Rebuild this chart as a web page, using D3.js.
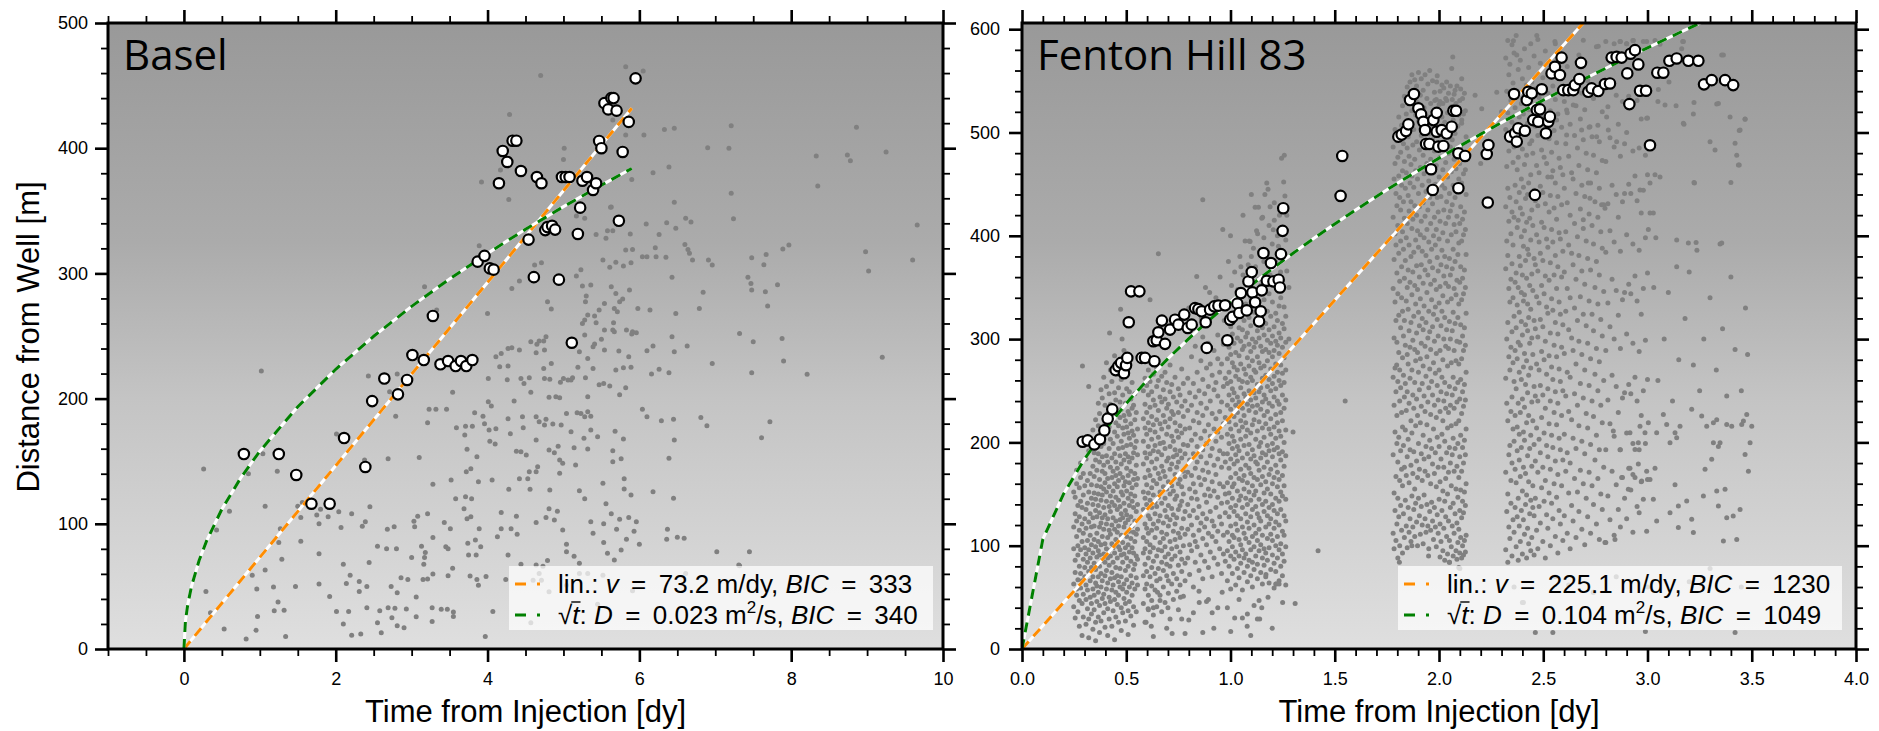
<!DOCTYPE html>
<html>
<head>
<meta charset="utf-8">
<script src="https://cdn.jsdelivr.net/npm/d3@7"></script>
<style>
body { margin: 0; background: #fff; }
text { font-family: "Liberation Sans", Arial, sans-serif; }
</style>
</head>
<body>
<div id="chart"></div>
<script>
// tick values
var baselXTicks = [0, 2, 4, 6, 8, 10];
var baselYTicks = [0, 100, 200, 300, 400, 500];
var fhXTicks = [0, 0.5, 1, 1.5, 2, 2.5, 3, 3.5, 4];
var fhYTicks = [0, 100, 200, 300, 400, 500, 600];

// fit parameters shown in the legends
var baselFit = {v: "73.2", bicLin: "333", D: "0.023", bicSqrt: "340"};
var fhFit = {v: "225.1", bicLin: "1230", D: "0.104", bicSqrt: "1049"};

// fit curves [t (dy), r (m)]
var baselLin = [[0, 0], [5.9, 431.9]];
var baselSqrt = [[0,0],[0.02,22.3],[0.05,35.3],[0.1,50],[0.2,70.7],[0.3,86.5],[0.5,111.7],[0.75,136.8],[1,158],[1.5,193.5],[2,223.4],[2.5,249.8],[3,273.7],[3.5,295.6],[4,316],[4.5,335.2],[5,353.3],[5.5,370.5],[5.9,383.8]];
var fhLin = [[0, 0], [2.7, 607.8]];
var fhSqrt = [[0,0],[0.1,106.3],[0.2,150.3],[0.3,184],[0.4,212.5],[0.5,237.6],[0.6,260.3],[0.7,281.1],[0.8,300.5],[0.9,318.8],[1,336],[1.1,352.4],[1.2,368.1],[1.3,383.1],[1.4,397.6],[1.5,411.5],[1.6,425],[1.7,438.1],[1.8,450.8],[1.9,463.1],[2,475.2],[2.1,486.9],[2.2,498.4],[2.3,509.6],[2.4,520.5],[2.5,531.3],[2.6,541.8],[2.7,552.1],[2.8,562.2],[2.9,572.2],[3,582],[3.1,591.6],[3.2,601.1],[3.3,610.4]];

// Basel: front events (white circles)
var baselCircles = [[0.79,155.7],[1.25,155.7],[1.48,139],[1.68,116],[1.92,116],[2.11,168.5],[2.39,145.4],[2.48,198],[2.64,216],[2.82,203.4],[2.94,214.9],[3.01,234.8],[3.16,230.8],[3.28,266],[3.38,227.4],[3.48,230],[3.58,226],[3.65,230],[3.72,226],[3.80,230.8],[3.87,309.4],[3.96,314],[4.03,304],[4.08,303],[4.15,372],[4.20,397.8],[4.26,389],[4.33,406],[4.38,406],[4.44,381.8],[4.54,327],[4.61,297],[4.65,377],[4.71,372],[4.76,334.6],[4.79,337],[4.85,338],[4.89,335],[4.94,295],[4.98,377],[5.03,377],[5.08,377],[5.11,244.6],[5.19,331.5],[5.22,352.5],[5.25,374],[5.31,377],[5.39,366.6],[5.43,372],[5.47,405.8],[5.50,400],[5.54,436],[5.59,431],[5.63,440],[5.66,440],[5.70,430],[5.73,342],[5.78,397],[5.86,421],[5.95,455.8]];

// Basel: all events (grey dots)
var baselDots = [[0.26,143.8],[0.29,46],[0.35,29],[0.43,95],[0.53,16],[0.60,110],[0.82,8],[0.85,140],[0.90,59],[0.96,48],[0.97,26],[0.95,15],[1.04,156],[1.07,114],[1.07,63],[1.18,49.5],[1.19,30.6],[1.24,37.5],[1.25,85],[1.27,96],[1.29,71.6],[1.23,142],[1.32,31],[1.34,10],[1.47,50],[1.50,114],[1.54,105],[1.54,86],[1.56,117],[1.75,107],[1.78,100],[1.78,76],[1.78,52],[1.80,111.6],[1.90,105.7],[1.92,42],[2.01,171.7],[2.01,30],[2.04,109.7],[2.07,97],[2.10,67.6],[2.10,20],[2.14,52.4],[2.17,30],[2.19,59],[2.21,108],[2.21,11],[2.31,54],[2.31,46],[2.33,12],[2.35,98],[2.38,151],[2.39,101.7],[2.41,50],[2.41,33],[2.44,69],[2.45,113.7],[2.55,82],[2.55,21],[2.58,30.6],[2.60,13],[2.67,80],[2.68,95.6],[2.69,152],[2.69,33],[2.73,50],[2.74,25],[2.77,97.7],[2.78,32.5],[2.79,186],[2.80,80],[2.81,45],[2.81,18.6],[2.86,57],[2.90,17],[2.93,32],[2.95,55.6],[3.00,73],[3.03,102],[3.04,97.7],[3.06,41.5],[3.06,25.8],[3.08,106],[3.10,153],[3.13,82],[3.15,55.6],[3.16,67.6],[3.17,73],[3.18,77],[3.21,56],[3.21,180.7],[3.21,108],[3.23,191.5],[3.27,22],[3.27,33],[3.28,89],[3.28,131.5],[3.28,60],[3.32,191.5],[3.39,31.7],[3.43,101],[3.45,81.7],[3.46,191.5],[3.47,31.7],[3.48,58.6],[3.48,80],[3.51,96],[3.52,135],[3.54,64.4],[3.55,26],[3.55,29.5],[3.58,120],[3.59,176.7],[3.69,112],[3.70,171],[3.71,178],[3.71,121.6],[3.72,141.6],[3.73,159.5],[3.73,104],[3.74,84.4],[3.75,75],[3.77,58.3],[3.78,144],[3.78,105.7],[3.80,178],[3.79,120],[3.83,188.7],[3.84,87],[3.85,75],[3.86,153.6],[3.86,55.6],[3.88,133.6],[3.88,51],[3.89,96],[3.91,81.7],[3.94,186],[3.96,180],[3.97,10],[3.98,58],[4.02,175],[4.03,166],[4.05,194],[4.06,135],[4.07,30],[4.10,163.7],[4.11,176],[4.13,89.7],
[1.02,222],[2.43,218],[2.71,205.5],[2.81,219.6],
[4.70,458],[4.29,427],[5.01,400],[5.00,391],[4.17,382.6],[5.17,345.8],[5.82,465],[5.65,422.5],[5.82,410.5],[5.63,353],[6.05,461.7],[6.33,415],[6.46,416],[7.21,418],[6.90,400.4],[7.18,400],[8.86,416.7],[6.06,410.5],
[3.17,289.4],[3.33,270.8],[3.89,322],[4.00,268],[3.92,373],[3.54,205],[4.28,359],[4.18,236],[4.11,233.5],[4.16,225.5],[4.01,216],[4.01,197.5],[4.27,240],[4.27,226],[4.26,215],[4.32,240.6],[4.42,238.8],[4.32,288],[4.42,294],[4.35,198],[4.27,184],[4.30,172],[4.44,216],[4.48,212],[4.46,185.5],[4.47,176.8],[4.57,245.5],[4.55,216.7],[4.57,205],[4.64,236.7],[4.65,243.4],[4.68,246],[4.71,308.6],[4.62,306.7],[4.74,246],[4.75,238.8],[4.77,249.4],[4.74,224],[4.75,216],[4.82,215.4],[4.84,228],[4.79,277.4],[4.84,271.6],[4.81,201],[4.64,185.5],[4.68,181.6],[4.77,183.5],[4.75,179],[4.64,167],[4.66,145.6],[4.64,141.6],[4.55,141.6],[4.53,136],[4.42,136],[4.38,158],[4.44,157.6],[4.51,155],[4.56,127.5],[4.28,127.5],[4.18,109],[4.38,106],[4.64,101],[4.77,105],[4.88,103],[4.81,112],[4.92,110],[4.82,127],[4.31,96],[4.39,91.6],[4.18,96],[4.27,75],[4.44,67.6],[4.64,67],[4.79,70.6],[4.73,66],[4.99,95],[5.04,83.6],[5.14,74],[5.21,68.5],[5.04,77.7],[5.21,126.4],[5.28,120],[5.36,101.7],[5.39,92.4],[5.52,132.3],[5.56,116],[5.53,100],[5.53,85],[5.58,76.4],[5.63,108],[5.67,71],[5.70,95.6],[5.74,103.6],[5.76,79],[5.80,136],[5.80,127.8],[5.83,87.6],[5.86,105],[5.89,123],[5.93,94],[5.96,101.7],[6.00,83.6],[5.76,152],[5.65,149.6],[5.65,158.4],[5.79,167.7],[5.68,174],[5.36,175],[5.45,169.6],[5.27,168.3],[5.32,159.7],[5.14,160.8],[5.16,147],[4.99,148.3],[4.93,162],[4.88,156.8],[4.81,159],[4.95,140.3],[4.95,151],[5.04,188],[5.10,173.6],[5.18,188.7],[5.23,188],[5.28,185.5],[5.32,189.5],[5.36,186],[4.97,179],[4.86,179.7],[4.96,213],[4.90,201.5],[4.95,200.7],[5.00,216],[5.06,214.9],[5.10,214.9],[5.12,216.7],[5.19,225],[5.29,216.7],[5.32,201.5],[5.39,224],[5.32,232],[5.47,211],[5.53,212],[5.61,210],[5.69,222.8],[5.74,203],[5.82,208.7],[5.79,224.7],[5.89,225],[5.86,233.5],[5.21,237.5],[5.28,250.8],[5.39,241.5],[5.41,243.6],[5.50,247.4],[5.54,238.8],[5.67,253.4],[5.73,238],[5.83,254.8],[5.91,253.4],[5.96,252.6],[5.54,254.8],[5.65,254.8],[5.25,260],[5.32,266.8],[5.41,266],[5.47,270.8],[5.54,276],[5.67,272],[5.71,269.4],[5.74,277.4],[5.78,279.5],[5.66,260.6],[5.43,260.6],[5.29,277.4],[5.30,282],[5.28,262.8],[5.25,290],[5.36,290.7],[5.17,298],[5.23,303],[5.63,289.4],[5.69,284],[5.87,286.7],[5.52,310.7],[5.61,305],[5.69,308.9],[5.79,306],[5.82,318.7],[5.91,319],[5.89,308.6],[5.58,334],[5.65,334],[5.56,328],[5.43,331],[5.28,344],[5.62,352.8],[5.88,331.5],[5.90,375],[6.04,313.3],[6.10,313.3],[6.09,339.5],[6.18,380.4],[6.22,313.3],[6.35,312.8],[6.36,340.5],[6.26,331],[6.21,320.5],[6.46,356.8],[6.48,336],[6.39,385],[6.43,297],[6.48,268],[6.61,344],[6.68,341],[6.60,323],[6.64,319],[6.66,316],[6.70,310.7],[6.84,285],[6.91,310.7],[6.96,306.7],[6.79,272],[7.21,364],[7.24,343.7],[7.43,297],[7.47,292],[7.48,286.7],[7.48,312.5],[7.64,307],[7.67,315],[7.66,285.4],[7.69,274],[7.82,291],[7.89,319.5],[7.97,322.7],[8.35,369.8],[8.33,393.8],[8.74,394.6],[8.78,390],[9.25,397],[8.98,317.3],[9.02,302],[9.60,310.7],[9.66,338.6],[7.32,252],[7.50,245.5],[7.88,248],[7.90,230],[8.21,219.4],[9.20,233],[7.48,220.7],[6.96,228],[6.63,242],[6.46,237.5],[6.43,249.4],[6.26,223.4],[6.16,219.6],[6.39,220.7],[6.10,238.3],[6.18,242],[5.90,251.6],[6.14,270.8],[5.98,272],[6.04,191.5],[6.10,185.5],[6.29,182.4],[6.45,183.5],[6.46,167],[6.39,152.3],[6.45,120.4],[6.18,125.6],[6.37,95.6],[6.36,87.6],[6.50,89.2],[6.59,88.4],[6.81,185],[6.89,178.4],[7.72,181.6],[7.61,168.8],[7.02,77.7],[7.45,77.7],[7.31,67],
[4.24,55.6],[4.57,21],[4.60,55],[4.68,60.4],[4.71,55],[4.81,45.8],[5.04,51],[5.21,60.4],[5.32,60.4],[5.45,35.7],[5.52,59],[5.91,46.6],[6.61,60.4],[7.32,66.5]];

// Fenton Hill: front events (white circles)
var fhCircles = [[0.291,200.7],[0.315,202],[0.347,198],[0.374,203],[0.395,211.6],[0.411,223],[0.433,232],[0.449,270],[0.462,273.7],[0.475,277],[0.489,267],[0.499,274.7],[0.505,281.8],[0.512,316.3],[0.523,346.2],[0.563,346.2],[0.574,281.8],[0.590,281.8],[0.635,278.6],[0.630,297.9],[0.646,298.9],[0.654,306.6],[0.671,317.9],[0.686,295.4],[0.710,309.2],[0.734,318.8],[0.750,314],[0.778,323.7],[0.795,310.8],[0.814,314],[0.830,330],[0.846,329],[0.862,326.9],[0.881,316.3],[0.886,291.5],[0.902,328.5],[0.922,331.7],[0.942,332.4],[0.974,332.7],[0.985,298.9],[0.998,318.8],[1.010,321.5],[1.033,334.3],[1.042,325.3],[1.050,344.6],[1.078,327.8],[1.086,355.8],[1.102,364.9],[1.105,345.2],[1.118,335.6],[1.137,317.2],[1.145,326.9],[1.150,347.2],[1.158,383.3],[1.174,356.5],[1.194,373.6],[1.206,355.8],[1.231,357.5],[1.237,350],[1.242,382.3],[1.250,404.8],[1.253,426.7],[1.528,438.6],[1.536,477.3],[1.805,496],[1.821,498],[1.842,501.4],[1.853,507.9],[1.861,531.4],[1.880,537.2],[1.901,523.4],[1.914,517.6],[1.925,510.4],[1.933,502.4],[1.938,488.9],[1.954,488.9],[1.962,464.4],[1.970,444.4],[1.973,512],[1.989,519],[1.989,500.8],[1.997,486.3],[2.013,502.4],[2.021,487],[2.037,499],[2.061,505.6],[2.069,521],[2.082,521],[2.093,479.9],[2.093,446.1],[2.125,477.3],[2.229,479.2],[2.237,487.9],[2.234,432.2],[2.341,496],[2.360,537.2],[2.365,499.2],[2.373,491.2],[2.380,504],[2.412,501.7],[2.421,531.4],[2.428,539.4],[2.445,537.9],[2.452,512],[2.460,439.6],[2.469,521.7],[2.476,510.4],[2.484,522.4],[2.493,541.8],[2.513,499.2],[2.524,510.4],[2.532,515.3],[2.540,557.2],[2.556,563.6],[2.580,555.6],[2.588,572.5],[2.596,541],[2.620,541],[2.644,541],[2.652,545.9],[2.673,551.7],[2.681,567.4],[2.716,539.4],[2.732,542.7],[2.764,540.1],[2.796,546.9],[2.820,547.5],[2.828,572.5],[2.852,573.2],[2.876,572.5],[2.903,557.2],[2.913,527.5],[2.919,576.3],[2.940,579.7],[2.956,565.9],[2.964,540.4],[2.993,540.4],[3.012,487.6],[3.047,557.9],[3.076,557.9],[3.105,569.4],[3.140,571.7],[3.196,569.4],[3.244,569.4],[3.271,546.6],[3.308,550.7],[3.372,550.7],[3.411,545.9]];

// Fenton Hill: all events, read column by column ("t r r r ...")
var fhDotCols = [
"0.248 41 63 97 118 152","0.255 30 74 86 131 147","0.262 52 58 109 124 160 173","0.268 36 67 91 100 139",
"0.275 22 47 80 115 128 156","0.281 59 73 96 143 166 180","0.288 13 44 66 104 121 137","0.294 31 53 87 112 149 170",
"0.301 70 79 98 126 158","0.307 24 48 62 92 117 135 184","0.314 39 57 84 105 141 163","0.320 11 29 75 96 123 152 192",
"0.327 50 66 88 110 131 170","0.333 34 44 79 101 118 146 159 201","0.340 19 58 70 93 127 140 177 212","0.346 38 52 83 106 119 151 167 190",
"0.353 8 26 64 77 99 134 145 183 222","0.359 46 61 89 112 128 158 173 205","0.366 31 55 70 95 104 139 150 189 216 238","0.372 16 42 80 91 118 132 164 181 228",
"0.379 27 60 73 101 122 144 157 196 251","0.385 49 66 86 109 127 149 172 186 209 243","0.392 35 53 92 116 137 155 178 199 263","0.398 21 44 71 84 102 130 161 170 219 236",
"0.405 58 76 97 121 143 152 187 208 254 277","0.411 13 39 64 88 108 126 165 181 228","0.418 29 50 81 95 115 138 157 194 215 247","0.424 46 68 90 111 133 148 176 203 237 270",
"0.431 22 57 74 102 120 142 166 185 222 259","0.437 37 62 84 98 127 153 172 199 231","0.444 9 48 69 93 116 139 160 189 210 248 284","0.450 31 55 79 106 124 147 168 181 219 241",
"0.457 43 71 88 113 135 157 175 206 229 266","0.463 26 52 65 99 119 144 163 194 216 253","0.470 60 78 96 125 138 170 187 224 239 275","0.476 18 40 70 91 110 131 152 179 201 232 261",
"0.483 35 58 84 103 127 149 166 195 214 246","0.489 49 63 92 118 141 158 183 208 226 268 289","0.496 27 44 76 98 122 134 162 189 221 238","0.502 55 67 88 109 130 153 175 197 215 252",
"0.509 14 37 80 101 125 146 168 186 209 230 271","0.515 46 60 94 114 139 161 181 204 227 249","0.522 32 71 85 107 128 150 172 198 218 242 280","0.528 52 64 98 119 143 156 185 211 233 258",
"0.535 23 41 77 93 113 137 164 190 207 236","0.541 58 82 104 124 148 170 195 222 247","0.548 36 69 90 111 133 159 178 201 229","0.554 62 87 116 140 165 188 213",
"0.582 44 71 93 108 135 152 179 201 223 250","0.590 26 58 82 97 121 146 166 190 214 237 262","0.598 63 75 104 117 140 159 185 208 229 255","0.606 38 52 88 112 129 151 173 196 219 246 270",
"0.614 70 94 101 126 144 168 189 212 234 259","0.622 47 61 79 115 137 156 181 203 225 249","0.630 12 33 40 85 98 121 149 163 192 217 241 266","0.638 57 73 108 131 142 175 197 210 236",
"0.646 41 66 90 117 138 160 184 222 254 272","0.654 78 96 124 147 170 191 205 231 260","0.662 47 52 68 103 129 152 165 199 218 244","0.670 36 84 95 113 141 177 188 213 239 264",
"0.678 60 76 107 122 157 172 200 226 251","0.686 45 89 99 134 146 167 194 220 242 268","0.694 20 71 82 111 128 155 182 208 233 258","0.702 54 66 92 119 139 162 185 215 237",
"0.710 29 80 104 125 150 174 196 223 249 275","0.718 63 87 97 136 158 179 206 230 256","0.726 48 73 114 130 153 186 201 227 244","0.734 90 106 121 145 169 193 219 263",
"0.742 56 68 99 127 148 176 188 211 239","0.750 38 81 112 135 160 181 205 229 252","0.758 62 94 108 139 164 192 216 246","0.766 29 75 87 117 143 157 185 209 235 271",
"0.774 51 100 126 150 172 198 225 257","0.782 15 66 83 111 133 167 189 213 240",
"0.795 88 116 140 171 197 231 262","0.804 72 101 129 155 183 214 248","0.813 95 120 146 168 202 236 283","0.822 35 60 110 134 160 189 221 257",
"0.831 84 104 152 175 208 244 293","0.840 99 127 145 181 196 229 268","0.849 56 76 115 138 166 219 250","0.858 91 122 159 186 204 238 279",
"0.867 16 68 107 131 173 193 226 261 302","0.876 85 118 149 164 211 247","0.885 46 101 126 142 180 199 233 272","0.894 48 79 112 155 171 217 254 296",
"0.903 94 133 148 187 206 240 276","0.912 35 70 109 124 162 194 228 265","0.921 88 119 153 178 213 251 289","0.930 104 137 169 201 223 258",
"0.939 40 82 114 147 184 210 245 281 304","0.948 97 128 160 192 230 268","0.957 73 121 141 176 205 239 276","0.966 92 110 157 189 218 254 295",
"0.975 85 132 150 181 224 262",
"0.985 40 66 95 113 142 161 189 208 236 257 281 300","0.993 80 104 128 151 175 199 220 246 268 292","1.001 17 58 90 119 137 166 184 213 232 259 285 312","1.009 73 99 110 146 157 194 206 241 252 277 305",
"1.017 87 108 133 160 179 201 225 248 273 296","1.025 62 94 121 139 170 188 217 236 264 287 320","1.033 78 115 129 153 182 196 229 244 270 301","1.041 48 69 90 106 144 165 192 211 239 261 284 311",
"1.049 83 101 126 148 174 203 221 253 276 298 326","1.057 30 57 96 118 137 163 185 215 233 259 290 309","1.065 74 88 112 155 168 197 226 247 271 293 318","1.073 92 107 131 146 178 206 219 244 266 302 334",
"1.081 34 65 80 123 140 161 189 212 237 258 282 306","1.089 86 103 117 152 175 198 231 250 274 295 321","1.097 13 71 96 128 144 170 184 209 241 263 288 313 340","1.105 60 84 109 135 158 193 217 235 260 279 300",
"1.113 42 77 99 120 149 166 187 222 248 270 292 326","1.121 90 112 138 153 181 203 229 243 268 297 316 345","1.129 29 68 82 105 131 164 179 211 236 256 283 308","1.137 47 95 116 127 145 173 196 220 249 277 301 329",
"1.145 74 101 124 159 185 200 232 253 272 293 319 352","1.153 63 88 110 140 167 190 214 239 262 288 311","1.161 81 97 133 151 176 205 226 246 274 304 338","1.169 70 93 118 143 162 188 218 242 265 290 315 361",
"1.177 86 107 129 155 181 197 230 254 279 299 327","1.185 64 98 121 137 169 192 213 238 261 287 309 344","1.193 77 111 126 150 174 208 223 250 271 296 322","1.201 91 105 140 160 186 199 235 257 283 303 336",
"1.209 59 83 117 134 166 193 215 244 264 289 312 355","1.217 63 75 100 123 146 178 204 227 252 276 298 325","1.225 88 109 131 157 171 195 219 240 268 294 318 348","1.233 63 66 96 120 143 164 189 211 237 260 286 306 332",
"1.241 80 102 135 152 183 206 229 255 275 301 340","1.249 71 92 114 148 168 191 221 246 267 292 315","1.257 85 110 129 158 177 200 233 258 282 310 331","1.265 62 99 124 145 187 212 241 270 297 322",
"1.7800 112 188 263 349 418 486","1.7845 97 151 236 301 377 455","1.7890 134 210 272 336 402 470 503","1.7935 105 167 249 318 391 441",
"1.7980 121 199 226 297 364 429 492","1.8025 88 146 181 259 344 410 476","1.8070 128 205 287 323 383 458 515","1.8115 100 163 240 270 356 437 498",
"1.8160 139 192 253 311 395 425 481","1.8205 115 174 229 340 370 449 507","1.8250 93 158 215 282 327 404 463 526","1.8295 131 197 265 303 387 433 489",
"1.8340 108 176 244 318 359 417 472 535","1.8385 144 212 257 294 376 446 500","1.8430 119 168 231 337 398 461 518","1.8475 98 186 249 285 350 412 485 544",
"1.8520 137 203 276 329 367 439 496","1.8565 113 161 238 308 391 424 477 530","1.8610 126 193 262 292 355 451 508 549","1.8655 104 178 221 316 380 433 469",
"1.8700 148 209 270 343 407 458 521 556","1.8745 118 170 246 299 365 416 488","1.8790 135 191 233 322 384 447 503 538","1.8835 109 155 258 290 352 429 474 551",
"1.8880 141 216 279 334 396 463 517","1.8925 123 182 242 306 371 420 491 545","1.8970 100 166 226 287 348 405 455 529","1.9015 146 199 268 326 389 441 511 558",
"1.9060 129 174 251 313 360 428 483","1.9105 111 219 281 339 401 466 536","1.9150 138 189 235 296 372 414 497 552","1.9195 120 163 257 320 385 449 505",
"1.9240 102 207 274 309 354 432 478 541","1.9285 149 184 245 332 398 460 524","1.9330 126 172 230 293 367 419 490 556","1.9375 113 196 264 316 381 443 512",
"1.9420 140 217 283 345 406 470 533","1.9465 119 168 239 301 362 425 486 547","1.9510 97 186 253 327 394 453 515","1.9555 133 202 271 307 375 437 499 560",
"1.9600 115 160 227 290 353 412 474 528","1.9645 142 194 259 338 387 446 506","1.9690 124 179 246 312 369 431 493 550","1.9735 106 213 277 324 400 461 521",
"1.9780 137 170 236 298 357 418 482 539","1.9825 118 190 267 331 391 450 511","1.9870 99 157 224 286 348 406 468 532","1.9915 130 205 255 319 379 437 497 555",
"1.9960 112 176 241 303 366 423 486 518","2.0005 145 196 270 335 397 457 527","2.0050 89 121 162 230 289 351 414 476 540","2.0095 104 184 249 313 372 438 501",
"2.0140 134 208 263 327 386 449 515 546","2.0185 95 153 221 280 342 403 464 528","2.0230 117 176 240 300 361 425 488 543","2.0275 86 143 201 258 321 380 446 510",
"2.0320 128 165 233 293 354 412 471 533","2.0365 109 190 247 309 370 433 497 549","2.0410 92 150 214 274 336 395 457 519","2.0455 124 171 229 291 351 418 480 538",
"2.0500 84 105 195 254 317 378 441 503","2.0545 137 180 236 300 362 424 486 545","2.0590 99 158 216 277 339 401 462 525","2.0635 119 188 246 308 368 430 493 532",
"2.0680 90 141 204 263 326 387 449 512","2.0725 112 172 233 289 349 411 474 537","2.0770 131 194 252 315 375 437 499 541","2.0815 95 155 218 279 343 404 465 528",
"2.0860 87 122 177 239 298 357 419 483 545","2.0905 103 147 199 258 321 382 444 506","2.0950 79 116 166 221 276 334 393 455 517","2.0995 93 134 186 242 297 355 412 470 531",
"2.1040 108 154 207 261 314 370 428 486 542","2.1085 88 127 172 228 281 338 395 451 509","2.1130 100 143 195 249 303 359 416 474 533","2.1175 91 132 180 235 289 344 401 460 518",
"2.1220 105 152 202 256 311 367 423 481 538","2.1265 94 139 188 241 294 350 406 464 521","2.1300 110 160 213 268 325 382 440 496",
"2.320 96 171 262 368 428 503 572","2.325 133 238 300 395 467 540","2.330 84 150 221 316 381 446 519 589","2.335 118 188 283 349 414 482 556",
"2.340 107 197 270 336 437 494 566","2.345 141 163 230 292 358 402 531","2.350 90 180 244 307 373 423 510 585","2.355 125 213 277 340 391 471 548",
"2.360 60 113 201 259 322 418 486 577","2.365 137 174 226 289 355 449 524","2.370 99 161 252 311 364 433 501 594","2.375 128 192 215 281 333 408 464 539",
"2.380 86 146 238 297 350 415 476 561","2.385 119 183 208 268 326 380 442 515","2.390 104 167 229 294 371 427 491 570","2.395 134 195 261 317 345 399 455 528",
"2.400 92 153 242 304 362 421 484 552","2.405 45 125 176 210 273 337 390 447 518","2.410 111 202 234 286 343 405 469 581","2.415 140 170 256 314 376 436 498 535",
"2.420 88 149 219 279 359 413 478 546","2.425 117 187 248 308 334 387 440 509","2.430 102 162 226 265 321 382 451 522 563","2.435 131 194 296 352 417 489",
"2.440 95 144 207 272 329 396 459 530 586","2.445 108 177 239 301 363 425 492 549","2.450 137 158 221 285 347 410 480 513","2.456 91 129 198 254 318 378 444 520 574",
"2.462 16 146 182 245 310 372 434 506 542","2.468 115 214 276 341 401 468","2.474 97 171 240 302 366 429 497 590","2.480 138 203 270 335 394 461 534",
"2.486 122 190 255 319 383 448 525 567","2.492 156 224 288 352 413 483","2.498 104 176 246 312 376 442 516 553","2.504 143 209 280 344 408 476",
"2.510 88 163 233 298 361 431 508 579","2.516 130 197 266 331 397 470","2.522 117 186 252 325 389 457 538","2.528 151 218 284 357 423 494",
"2.534 100 174 240 306 374 439 521 560","2.540 141 207 273 339 406 481","2.546 16 126 195 261 328 394 463 545","2.552 160 229 294 362 427 502",
"2.558 70 109 182 249 316 381 451 532 586","2.564 147 217 283 349 416 490","2.570 93 169 238 305 370 438 518","2.576 134 204 271 336 403 475",
"2.582 121 193 259 324 397 466 556","2.588 158 226 292 360 430 505","2.594 105 183 250 314 385 459 541","2.601 129 208 286 365 446 530",
"2.608 172 245 327 404 489","2.615 112 190 268 349 432 519 564","2.622 62 151 230 309 391 477","2.629 97 180 263 340 420 508",
"2.636 139 222 301 383 461","2.643 124 204 289 372 455 548","2.650 165 247 330 412 497","2.657 108 194 276 358 441 526",
"2.664 152 236 318 399 485","2.671 133 216 298 381 468 575","2.678 173 257 341 426 513","2.685 116 201 285 366 449 538",
"2.692 160 243 324 407 493","2.699 101 189 270 353 438 522","2.706 146 228 313 395 480","2.713 128 214 296 378 464 550",
"2.720 171 255 337 421 505","2.727 112 198 281 367 451","2.734 158 240 324 410 496","2.741 55 140 225 308 392 478 533",
"2.748 183 266 350 433","2.755 121 207 291 375 461 583","2.762 165 250 334 418 507","2.769 106 193 278 362 446 491",
"2.776 150 236 319 404","2.783 135 219 303 388 473 520","2.790 176 260 346 430","2.800 103 193 289 384 472 588",
"2.810 148 241 335 431 525","2.820 125 218 312 405 495","2.830 172 265 358 449","2.840 110 206 300 394 486 586",
"2.850 70 159 254 347 440 536","2.860 135 229 323 418 508","2.870 118 193 291 385 477 588","2.880 166 243 338 433 530",
"2.890 146 248 345 441 489","2.900 126 209 305 401 500 586","2.910 175 256 353 450 535","2.920 154 247 344 441 526",
"2.930 113 199 296 392 482 589","2.940 166 263 361 458","2.950 138 240 337 434 531","2.960 193 288 386 485",
"2.970 162 226 324 422 513","2.980 145 250 349 444 540 588","2.990 17 199 299 398 478","3.000 164 261 364 459 514"
];

// Fenton Hill: scattered events outside the dense columns [t, r]
var fhDotsExtra = [[0.290,274],[0.320,254],[0.473,329],[0.480,300],[0.420,306],[0.595,26],[0.605,39],[0.614,338],[0.654,382.6],[0.75,320],[0.80,330],[0.838,360.7],[0.867,435],[0.90,345],[0.963,406],[1.05,370],[1.09,395],[1.094,394.5],[1.10,380],[1.118,427.7],[1.125,404.8],[1.134,427.7],[1.15,417],[1.154,418],[1.16,375],[1.174,451],[1.180,445],[1.190,428],[1.20,372],[1.205,405.8],[1.21,415],[1.23,390],[1.245,475],[1.258,478],[1.261,438.6],[1.27,366],[1.140,29],[1.170,72],[1.220,63],
[1.005,352],[1.02,365],[1.035,348],[1.045,380],[1.06,362],[1.07,395],[1.085,372],[1.095,356],[1.11,388],[1.12,370],[1.13,402],[1.135,358],[1.145,385],[1.16,398],[1.165,440],[1.175,380],[1.185,410],[1.19,362],[1.2,392],[1.21,432],[1.215,375],[1.225,400],[1.235,420],[1.24,365],[1.25,385],[1.255,452],[1.265,396],[1.27,420],[1.06,420],[1.1,440],[0.93,340],[0.95,360],[0.97,318],[0.88,350],[0.99,375],[1.0,400],[0.82,310],[0.86,320],[1.28,350],[1.28,300],
[0.62,22],[0.65,55],[0.7,40],[0.72,15],[0.76,50],[0.8,28],[0.85,45],[0.92,20],[0.96,55],[1.02,30],[1.08,22],[1.15,40],[1.2,20],[1.25,45],[1.18,50],
[1.30,210],[1.42,95],[1.55,240],[1.31,44],[1.797,275],[1.81,84],[1.87,100],[1.95,90],[2.05,84],[2.10,78],
[2.066,573],[2.061,562],[2.109,552],[1.989,549],[1.98,531],[2.005,530],[2.037,531],[2.109,512],[2.173,536],[2.205,523],[2.277,539],[2.30,520],[2.20,470],
[2.357,588.7],[2.373,575],[2.469,594],[2.556,588],[2.692,589.4],[2.764,583.6],[2.868,588],[2.90,586],[2.932,589],[2.996,588],[3.036,589],[3.06,585.5],[3.172,588],[3.164,581],
[2.564,512],[2.612,521.7],[2.612,497.6],[2.644,526.6],[2.684,502.4],[2.724,505.6],[2.756,496],[2.804,515],[2.812,502.4],[2.852,491],[2.996,513.7],[3.084,526.6],[3.172,509],[3.22,518],[3.30,491],[3.34,528],[3.356,575],[3.396,515],[3.468,512.8],[3.444,502.4],[3.42,489.5],[3.428,478],[3.44,468.6],[3.40,451.5],[3.225,451],[3.324,483],[3.036,459],[3.06,457],[3.012,451],[2.964,444.4],[3.012,422],[2.78,430],[2.796,426.7],[2.716,451],[2.724,436.4],[2.692,415.5],[2.54,457],
[3.169,588],[3.175,508],[3.137,526],[3.223,529],[3.233,393.5],[3.223,451.5],[3.237,386],[3.332,527.5],[3.364,575],[3.44,502],[3.468,513],[3.436,468.6],[3.356,393],[3.348,392],[3.14,396],[3.04,398],[3.028,422],[3.004,406],[3.052,541.7],[3.05,530],[3.103,549],[3.196,393],
[3.05,260],[3.08,300],[3.10,345],[3.15,280],[3.18,320],[3.20,365],[3.25,250],[3.27,300],[3.30,340],[3.33,270],[3.36,310],[3.40,360],[3.42,290],[3.45,250],[3.47,330],[3.38,245],[3.12,240],[3.22,275],[3.48,285],[3.03,350],[3.14,370],
[2.836,211],[2.868,193],[2.796,103],[2.844,106],[2.876,166],[2.916,175],[2.93,169],[2.956,179],[2.972,162.6],[2.996,172],[3.036,175],[3.012,164],[2.908,154.6],[2.96,132],[2.996,114],[3.044,124],[3.028,145],[3.108,132],[3.148,117.6],[3.132,159],[3.148,138.5],[3.188,143.3],[3.212,125.6],[3.22,112.8],[3.268,148],[3.276,174],[3.308,183.6],[3.332,153],[3.34,138.5],[3.372,154.6],[3.38,127],[3.411,128.8],[3.444,135],[3.364,104.6],[3.428,106],[3.316,199.6],[3.34,196],[3.348,199.6],[3.468,188.4],[3.484,172],[3.492,199.6],[3.452,217.4],[3.46,220.6],[3.50,215.7],[3.476,227],[3.404,215.7],[3.38,217.4],[3.316,219],[3.332,222],[3.284,215.7],[3.26,225.5],[3.212,232],[3.132,209.4],[3.156,215.7],[3.14,204.6],[3.108,199.6],[3.092,217.4],[3.076,227],[3.044,209.4],[3.004,219],[2.988,209.4],[2.964,215.7],[2.94,193.2],[2.916,209.4],[2.956,199.6],[3.42,16],
[2.40,45],[2.74,55],[3.2,65],[3.0,60],[3.3,78],[3.45,60]];

var fhDots = [];
fhDotCols.forEach(function(s) {
    var v = s.split(" ").map(Number);
    for (var i = 1; i < v.length; i++) fhDots.push([v[0], v[i]]);
});
fhDots = fhDots.concat(fhDotsExtra);

var svg = d3.select("#chart")
    .append("svg")
        .attr("width", 1879)
        .attr("height", 731);

var defs = svg.append("defs");
var grad = defs.append("linearGradient")
    .attr("id", "bg")
    .attr("x1", 0).attr("y1", 0).attr("x2", 0).attr("y2", 1);
grad.append("stop").attr("offset", "0").attr("stop-color", "#999999");
grad.append("stop").attr("offset", "0.35").attr("stop-color", "#ababab");
grad.append("stop").attr("offset", "0.6").attr("stop-color", "#c4c4c4");
grad.append("stop").attr("offset", "1").attr("stop-color", "#dfdfdf");

function minorTicks(lo, hi, step, major) {
    var out = [];
    for (var v = lo; v <= hi + 1e-9; v += step) {
        var r = Math.round(v * 1000) / 1000;
        if (major.indexOf(r) < 0) out.push(r);
    }
    return out;
}

var thin = "\u2009";

function drawPanel(p) {
    var top = 23, bottom = 649;
    var x = d3.scaleLinear().domain(p.xDomain).range([p.x0, p.x1]);
    var y = d3.scaleLinear().domain(p.yDomain).range([bottom, top]);
    var g = svg.append("g");

    defs.append("clipPath").attr("id", "clip" + p.id)
        .append("rect")
        .attr("x", p.x0).attr("y", top)
        .attr("width", p.x1 - p.x0).attr("height", bottom - top);

    g.append("rect")
        .attr("x", p.x0).attr("y", top)
        .attr("width", p.x1 - p.x0).attr("height", bottom - top)
        .attr("fill", "url(#bg)");

    var plot = g.append("g").attr("clip-path", "url(#clip" + p.id + ")");

    plot.selectAll("circle.dot")
        .data(p.dots)
        .enter()
        .append("circle")
        .attr("class", "dot")
        .attr("cx", function(d) { return x(d[0]); })
        .attr("cy", function(d) { return y(d[1]); })
        .attr("r", 2.5)
        .attr("fill", "#808080");

    var line = d3.line()
        .x(function(d) { return x(d[0]); })
        .y(function(d) { return y(d[1]); });

    [[p.lin, "#ff8c00"], [p.sqrt, "#008000"]].forEach(function(l) {
        plot.append("path").attr("d", line(l[0]))
            .attr("fill", "none").attr("stroke", "#fff").attr("stroke-width", 3);
        plot.append("path").attr("d", line(l[0]))
            .attr("fill", "none").attr("stroke", l[1]).attr("stroke-width", 3)
            .attr("stroke-dasharray", "10,7");
    });

    plot.selectAll("circle.front")
        .data(p.circles)
        .enter()
        .append("circle")
        .attr("class", "front")
        .attr("cx", function(d) { return x(d[0]); })
        .attr("cy", function(d) { return y(d[1]); })
        .attr("r", 5.2)
        .attr("fill", "#fff")
        .attr("stroke", "#000")
        .attr("stroke-width", 2.2);

    // legend
    var lg = g.append("g");
    lg.append("rect")
        .attr("x", p.leg.x).attr("y", 566)
        .attr("width", p.leg.w).attr("height", 64)
        .attr("fill", "#fff").attr("fill-opacity", 0.72);
    [[584, "#ff8c00"], [615, "#008000"]].forEach(function(h) {
        lg.append("line")
            .attr("x1", p.leg.x + 6).attr("x2", p.leg.x + 31)
            .attr("y1", h[0]).attr("y2", h[0])
            .attr("stroke", h[1]).attr("stroke-width", 3)
            .attr("stroke-dasharray", "11,11");
    });
    var tx = p.leg.x + 49;
    var t1 = lg.append("text").attr("x", tx).attr("y", 593).attr("font-size", 26);
    t1.append("tspan").text("lin.: ");
    t1.append("tspan").attr("font-style", "italic").text("v");
    t1.append("tspan").text(" " + thin + "=" + thin + " " + p.fit.v + " m/dy, ");
    t1.append("tspan").attr("font-style", "italic").text("BIC");
    t1.append("tspan").text(" " + thin + "=" + thin + " " + p.fit.bicLin);

    var t2 = lg.append("text").attr("x", tx).attr("y", 624).attr("font-size", 26);
    t2.append("tspan").text("\u221A");
    t2.append("tspan").attr("font-style", "italic").text("t");
    t2.append("tspan").text(": ");
    t2.append("tspan").attr("font-style", "italic").text("D");
    t2.append("tspan").text(" " + thin + "=" + thin + " " + p.fit.D + " m");
    t2.append("tspan").attr("font-size", 17).attr("dy", -11).text("2");
    t2.append("tspan").attr("dy", 11).text("/s, ");
    t2.append("tspan").attr("font-style", "italic").text("BIC");
    t2.append("tspan").text(" " + thin + "=" + thin + " " + p.fit.bicSqrt);
    var ext = t2.node().getExtentOfChar(1);
    var ext0 = t2.node().getExtentOfChar(0);
    lg.append("line")
        .attr("x1", ext0.x + ext0.width - 1).attr("x2", ext.x + ext.width + 1)
        .attr("y1", 602).attr("y2", 602)
        .attr("stroke", "#000").attr("stroke-width", 1.4);

    // title
    g.append("text")
        .attr("x", p.x0 + 15).attr("y", 70)
        .style("font-family", "'Open Sans', 'Noto Sans', sans-serif")
        .attr("font-size", 42)
        .text(p.title);

    // frame
    g.append("rect")
        .attr("x", p.x0).attr("y", top)
        .attr("width", p.x1 - p.x0).attr("height", bottom - top)
        .attr("fill", "none").attr("stroke", "#000").attr("stroke-width", 3);

    function styleAxis(sel, w) {
        sel.select(".domain").remove();
        sel.selectAll(".tick line").attr("stroke", "#000").attr("stroke-width", w);
        sel.selectAll(".tick text").attr("fill", "#000");
        sel.attr("font-size", 18).attr("font-family", "'Liberation Sans', Arial, sans-serif");
    }

    var xMinor = minorTicks(p.xDomain[0], p.xDomain[1], p.xMinorStep, p.xTicks);
    var yMinor = minorTicks(p.yDomain[0], p.yTicks[p.yTicks.length - 1], 20, p.yTicks);

    g.append("g").attr("transform", "translate(0," + bottom + ")")
        .call(d3.axisBottom(x).tickValues(p.xTicks).tickSize(13).tickPadding(10).tickFormat(p.xFormat))
        .call(styleAxis, 2.6);
    g.append("g").attr("transform", "translate(0," + bottom + ")")
        .call(d3.axisBottom(x).tickValues(xMinor).tickSize(7).tickFormat(""))
        .call(styleAxis, 1.8);
    g.append("g").attr("transform", "translate(0," + top + ")")
        .call(d3.axisTop(x).tickValues(p.xTicks).tickSize(13).tickFormat(""))
        .call(styleAxis, 2.6);
    g.append("g").attr("transform", "translate(0," + top + ")")
        .call(d3.axisTop(x).tickValues(xMinor).tickSize(7).tickFormat(""))
        .call(styleAxis, 1.8);
    g.append("g").attr("transform", "translate(" + p.x0 + ",0)")
        .call(d3.axisLeft(y).tickValues(p.yTicks).tickSize(13).tickPadding(p.yPad).tickFormat(d3.format("d")))
        .call(styleAxis, 2.6);
    g.append("g").attr("transform", "translate(" + p.x0 + ",0)")
        .call(d3.axisLeft(y).tickValues(yMinor).tickSize(7).tickFormat(""))
        .call(styleAxis, 1.8);
    g.append("g").attr("transform", "translate(" + p.x1 + ",0)")
        .call(d3.axisRight(y).tickValues(p.yTicks).tickSize(13).tickFormat(""))
        .call(styleAxis, 2.6);
    g.append("g").attr("transform", "translate(" + p.x1 + ",0)")
        .call(d3.axisRight(y).tickValues(yMinor).tickSize(7).tickFormat(""))
        .call(styleAxis, 1.8);

    g.append("text")
        .attr("x", (p.x0 + p.x1) / 2).attr("y", 722)
        .attr("text-anchor", "middle")
        .attr("font-size", 31)
        .text("Time from Injection [dy]");
}

drawPanel({
    id: "basel", title: "Basel",
    x0: 108, x1: 943, xDomain: [-1, 10], yDomain: [0, 500],
    xTicks: baselXTicks, yTicks: baselYTicks, xMinorStep: 0.5,
    xFormat: d3.format("d"), yPad: 7,
    dots: baselDots, circles: baselCircles, lin: baselLin, sqrt: baselSqrt,
    fit: baselFit, leg: {x: 509, w: 424}
});

drawPanel({
    id: "fh", title: "Fenton Hill 83",
    x0: 1022, x1: 1856, xDomain: [0, 4], yDomain: [0, 606],
    xTicks: fhXTicks, yTicks: fhYTicks, xMinorStep: 0.1,
    xFormat: d3.format(".1f"), yPad: 9,
    dots: fhDots, circles: fhCircles, lin: fhLin, sqrt: fhSqrt,
    fit: fhFit, leg: {x: 1398, w: 444}
});

svg.append("text")
    .attr("transform", "translate(39,337) rotate(-90)")
    .attr("text-anchor", "middle")
    .attr("font-size", 31)
    .text("Distance from Well [m]");
</script>
</body>
</html>
